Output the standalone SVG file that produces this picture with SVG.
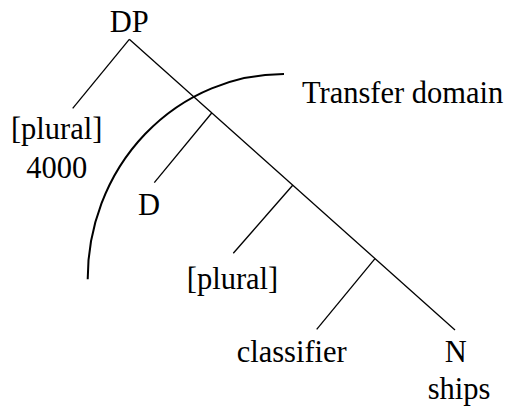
<svg xmlns="http://www.w3.org/2000/svg" width="509" height="407" viewBox="0 0 509 407">
<style>
text{font-family:"Liberation Serif","Times New Roman",serif;font-size:30.5px;fill:#000;text-anchor:middle}
.e{stroke:#000;stroke-width:1.3;fill:none}
.arc{stroke:#000;stroke-width:2;fill:none}
</style>
<rect width="509" height="407" fill="#fff"/>
<g id="connectors">
<line class="e" x1="129.3" y1="39.3" x2="72.7" y2="108.3"/>
<line class="e" x1="129.3" y1="39.3" x2="455" y2="330"/>
<line class="e" x1="211.7" y1="113" x2="154.3" y2="182.7"/>
<line class="e" x1="292.7" y1="185.3" x2="233.3" y2="253.3"/>
<line class="e" x1="375" y1="258.7" x2="316.7" y2="329.3"/>
</g>
<g id="domain">
<path class="arc" d="M284,74 A196,205 0 0 0 87.7,279.3"/>
<text x="302" y="103" style="text-anchor:start">Transfer domain</text>
</g>
<g id="DP"><text x="129.3" y="31.5">DP</text></g>
<g id="plural4000"><text x="56.7" y="139">[plural]</text><text x="56.7" y="178">4000</text></g>
<g id="D"><text x="149" y="215">D</text></g>
<g id="plural"><text x="232.5" y="289">[plural]</text></g>
<g id="classifier"><text x="291.7" y="361.5">classifier</text></g>
<g id="N"><text x="455.8" y="361.5">N</text><text x="459" y="399">ships</text></g>
</svg>
